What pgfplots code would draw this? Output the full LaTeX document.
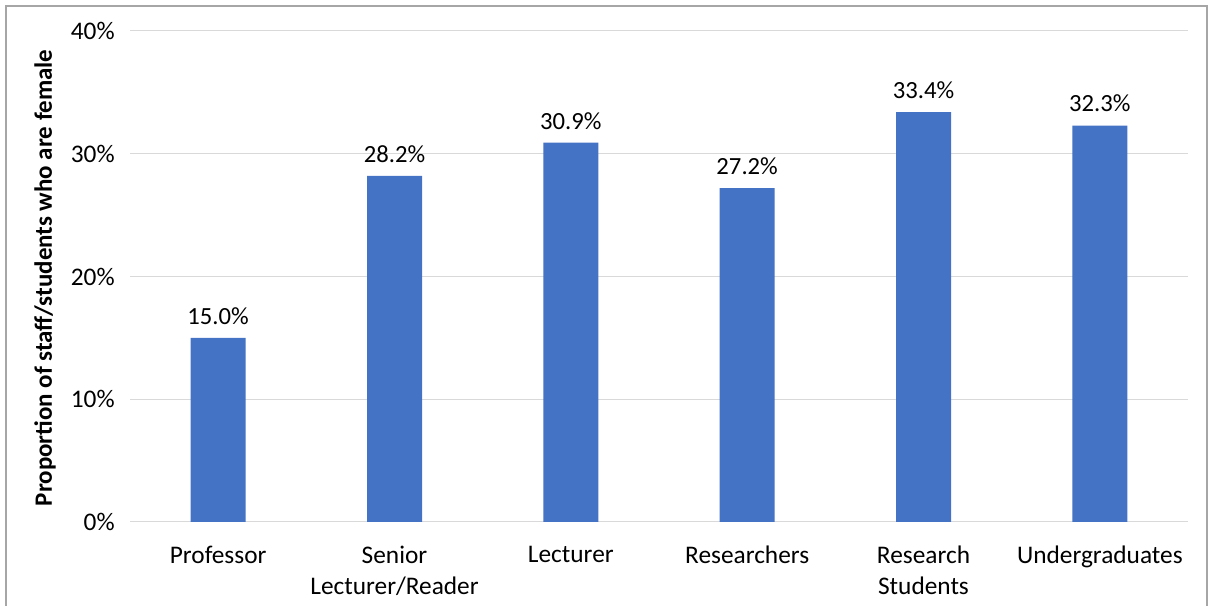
\documentclass[border=0pt]{standalone}
\usepackage{fontspec}
\setmainfont{Carlito}
\usepackage{pgfplots}
\pgfplotsset{compat=1.18}
\definecolor{barblue}{HTML}{4472C4}
\definecolor{gridgray}{HTML}{D9D9D9}
\definecolor{framegray}{HTML}{A6A6A6}
\begin{document}
\begin{tikzpicture}[x=0.75pt,y=0.75pt]
\useasboundingbox (0,0) rectangle (1213,606);
% chart frame
\draw[framegray, line width=1pt] (6,-10) -- (6,600) -- (1207,600) -- (1207,-10);
\begin{axis}[
  at={(97.5pt,63pt)}, anchor=south west,
  scale only axis,
  width=793.5pt, height=368.25pt,
  ymin=0, ymax=40,
  xmin=-0.5, xmax=5.5,
  ytick={0,10,20,30,40},
  xtick={0,1,2,3,4,5},
  xticklabels={Professor,{Senior\\Lecturer/Reader},Lecturer,Researchers,{Research\\Students},Undergraduates},
  xticklabel style={align=center, font=\fontsize{19}{23}\selectfont, yshift=-10.5pt},
  yticklabel={\pgfmathprintnumber{\tick}\%},
  yticklabel style={font=\fontsize{19}{22}\selectfont, xshift=-8pt},
  /pgf/number format/assume math mode=true,
  axis line style={draw=none},
  major tick style={draw=none},
  ymajorgrids,
  major grid style={gridgray, line width=0.75pt},
  ybar,
  bar width=41.25pt,
  nodes near coords={\pgfmathprintnumber[fixed,fixed zerofill,precision=1]{\pgfplotspointmeta}\%},
  nodes near coords style={font=\fontsize{18.5}{22}\selectfont, anchor=south, yshift=6.5pt},
]
\addplot[fill=barblue, draw=none] coordinates {
  (0,15.0) (1,28.2) (2,30.9) (3,27.2) (4,33.4) (5,32.3)
};
\end{axis}
\node[rotate=90, font=\fontsize{18.7}{22}\selectfont\bfseries] at (45,328) {Proportion of staff/students who are female};
\end{tikzpicture}
\end{document}
